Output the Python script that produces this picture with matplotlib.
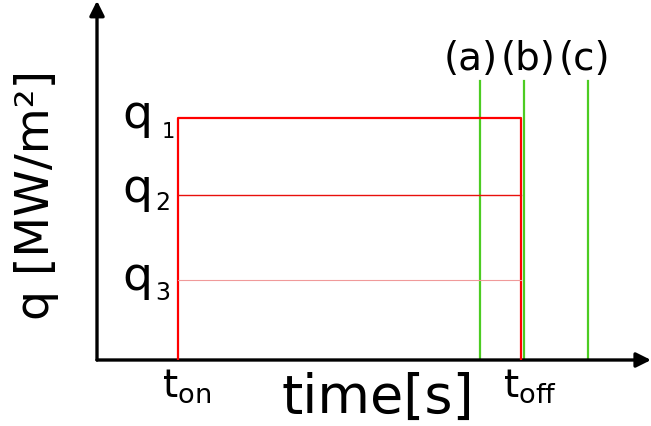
import matplotlib.pyplot as plt

# pulse data (arbitrary units)
t_on = 1.0
t_off = 5.23
q_levels = [1.0, 0.68, 0.33]
q_subs = ['1', '2', '3']
q_colors = ['#ff0000', '#e8100c', '#f09a9a']
q_widths = [1.6, 1.0, 0.8]

# sample times (a), (b), (c)
t_samples = [4.73, 5.27, 6.06]
sample_labels = ['(a)', '(b)', '(c)']
sample_top = 1.15

fig = plt.figure(figsize=(6.51, 4.27), dpi=100)
ax = fig.add_axes([97 / 651, 66 / 427, 554 / 651, 361 / 427])
ax.set_xlim(0, 6.84)
ax.set_ylim(0, 1.49)
ax.axis('off')

# axes with arrows
arrow = dict(arrowstyle='-|>', lw=2.4, color='black', mutation_scale=22, shrinkA=0, shrinkB=0)
ax.annotate('', xy=(1.0, 0), xytext=(0, 0), xycoords='axes fraction', arrowprops=arrow)
ax.annotate('', xy=(0, 0.995), xytext=(0, 0), xycoords='axes fraction', arrowprops=arrow)

# green sample lines
for t in t_samples:
    ax.plot([t, t], [0, sample_top], color='#4ccc22', lw=1.6, zorder=2)
for t, lab, dx in zip(t_samples, sample_labels, [-9, 4, -3]):
    ax.annotate(lab, xy=(t, sample_top), xytext=(dx, 23), textcoords='offset pixels',
                ha='center', va='center', fontsize=28)

# pulse
ax.plot([t_on, t_on, t_off, t_off], [0, q_levels[0], q_levels[0], 0],
        color=q_colors[0], lw=q_widths[0], zorder=3)
for q, c, w in zip(q_levels[1:], q_colors[1:], q_widths[1:]):
    ax.plot([t_on, t_off], [q, q], color=c, lw=w, zorder=3)

# level labels: big q plus a small index
q_base = [-9, -6, -9]
sub_base = [-19, -14, -19]
sub_dx = [-16, -23, -23]
sub_size = [15, 17, 17]
for q, s, qb, sb, sx, ss in zip(q_levels, q_subs, q_base, sub_base, sub_dx, sub_size):
    ax.annotate('q', xy=(t_on, q), xytext=(-56, qb), textcoords='offset pixels',
                ha='left', va='baseline', fontsize=34)
    ax.annotate(s, xy=(t_on, q), xytext=(sx, sb), textcoords='offset pixels',
                ha='left', va='baseline', fontsize=ss)

ax.annotate(r'$\mathrm{t_{on}}$', xy=(t_on, 0), xytext=(-16, -36), textcoords='offset pixels',
            ha='left', va='baseline', fontsize=28)
ax.annotate(r'$\mathrm{t_{off}}$', xy=(t_off, 0), xytext=(-18, -36), textcoords='offset pixels',
            ha='left', va='baseline', fontsize=28)

fig.text(378 / 651, 1 - 398 / 427, 'time[s]', ha='center', va='center', fontsize=39)
fig.text(37 / 651, 1 - 195 / 427, 'q [MW/m²]', ha='center', va='center', fontsize=34,
         rotation=90)

plt.savefig('out.png', dpi=100)
